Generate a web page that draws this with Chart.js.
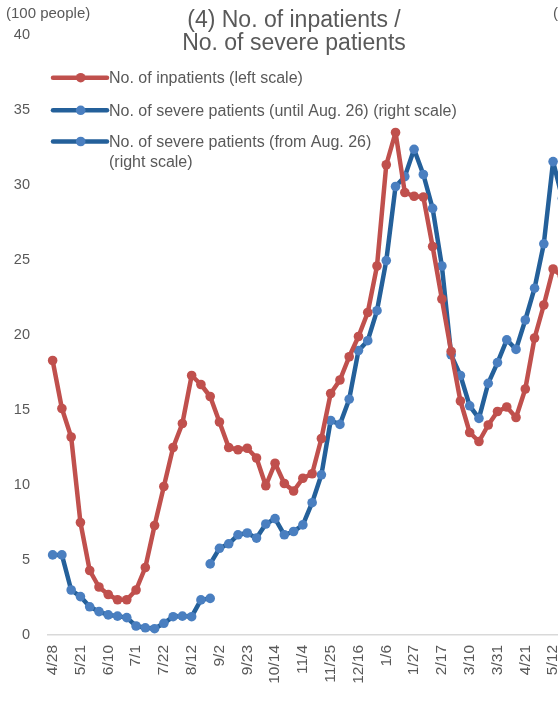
<!DOCTYPE html>
<html>
<head>
<meta charset="utf-8">
<title>No. of inpatients / No. of severe patients</title>
<script src="https://cdn.jsdelivr.net/npm/chart.js@4.4.1/dist/chart.umd.min.js"></script>
<style>
  html, body { margin: 0; padding: 0; background: #fff; overflow: hidden; }
  #wrap { width: 558px; height: 707px; overflow: hidden; }
</style>
</head>
<body>
<div id="wrap"><canvas id="chart" width="620" height="707"></canvas></div>
<script>
// weekly dates (2020/4/28 - 2021/5/19), every 3rd one is labelled
const dates = [
  '4/28', '5/7', '5/14', '5/21', '5/27', '6/3', '6/10', '6/17', '6/24',
  '7/1', '7/8', '7/15', '7/22', '7/29', '8/5', '8/12', '8/19', '8/26',
  '9/2', '9/9', '9/16', '9/23', '9/30', '10/7', '10/14', '10/21', '10/28',
  '11/4', '11/11', '11/18', '11/25', '12/2', '12/9', '12/16', '12/23', '12/30',
  '1/6', '1/13', '1/20', '1/27', '2/3', '2/10', '2/17', '2/24', '3/3',
  '3/10', '3/17', '3/24', '3/31', '4/7', '4/14', '4/21', '4/28', '5/5',
  '5/12', '5/19'
];
const labelEvery = 3;

// inpatients, left scale (100 people)
const inpatients = [
  18.3, 15.1, 13.2, 7.5, 4.3, 3.2, 2.7, 2.35, 2.35, 3.0,
  4.5, 7.3, 9.9, 12.5, 14.1, 17.3, 16.7, 15.9, 14.2, 12.5,
  12.35, 12.45, 11.8, 9.95, 11.45, 10.1, 9.6, 10.45, 10.75, 13.1,
  16.1, 17.0, 18.55, 19.9, 21.5, 24.6, 31.35, 33.5, 29.5, 29.25,
  29.2, 25.9, 22.4, 18.9, 15.6, 13.5, 12.9, 14.0, 14.9, 15.2,
  14.5, 16.4, 19.8, 22.0, 24.4, 23.9
];

// severe patients, right scale (people) - old definition, 4/28 .. 8/26
const severeUntilAug26 = [
  26.7, 26.7, 15.0, 12.8, 9.4, 7.8, 6.7, 6.3, 5.8, 3.0,
  2.4, 2.1, 3.9, 6.1, 6.3, 6.1, 11.7, 12.2
];

// severe patients, right scale (people) - new definition, 8/26 ..
const severeFromAug26 = [
  23.7, 28.9, 30.4, 33.4, 34.0, 32.3, 37.0, 38.8, 33.4, 34.5,
  36.7, 44.1, 53.4, 71.5, 70.2, 78.6, 94.8, 98.1, 108.1, 124.8,
  149.5, 152.8, 161.9, 153.5, 142.2, 123.0, 93.4, 86.5, 76.4, 72.2,
  83.9, 90.8, 98.4, 95.2, 105.0, 115.6, 130.4, 157.8, 145.5
];

const leftTicks = { min: 0, max: 40, step: 5 };
const rightTicks = { min: 0, max: 200, step: 25 };

const titleLines = ['(4) No. of inpatients /', 'No. of severe patients'];
const leftUnit = '(100 people)';
const rightUnit = '(people)';
const legendLabels = [
  ['No. of inpatients (left scale)'],
  ['No. of severe patients (until Aug. 26) (right scale)'],
  ['No. of severe patients (from Aug. 26)', '(right scale)']
];

const RED = '#C0504D';
const BLUE_LINE = '#24609A';
const BLUE_POINT = '#4A7FC0';
const TEXT = '#595959';
const FONT = '"Liberation Sans", Arial, sans-serif';

// pad the two severe series out to the full date range
const splitIndex = dates.indexOf('8/26');
const severeA = dates.map((d, i) => (i < severeUntilAug26.length ? severeUntilAug26[i] : null));
const severeB = dates.map((d, i) => (i >= splitIndex ? severeFromAug26[i - splitIndex] : null));

const lineStyle = (line, point) => ({
  borderColor: line,
  backgroundColor: point,
  pointBackgroundColor: point,
  pointBorderWidth: 0,
  pointRadius: 4.8,
  borderWidth: 4.5,
  borderJoinStyle: 'round',
  tension: 0,
  spanGaps: false,
});

// title, unit labels and the legend are drawn by hand
const extras = {
  id: 'extras',
  afterDraw(chart) {
    const ctx = chart.ctx;
    ctx.save();
    ctx.fillStyle = TEXT;

    ctx.font = '23px ' + FONT;
    ctx.textAlign = 'center';
    ctx.textBaseline = 'alphabetic';
    ctx.fillText(titleLines[0], 294, 26.5);
    ctx.fillText(titleLines[1], 294, 50);

    ctx.font = '15px ' + FONT;
    ctx.textAlign = 'left';
    ctx.fillText(leftUnit, 6, 18);
    ctx.fillText(rightUnit, 553, 18);

    const rows = [77.7, 110.3, 141.5];
    const colors = [[RED, RED], [BLUE_LINE, BLUE_POINT], [BLUE_LINE, BLUE_POINT]];
    ctx.font = '16px ' + FONT;
    rows.forEach((y, k) => {
      ctx.strokeStyle = colors[k][0];
      ctx.lineWidth = 4.5;
      ctx.lineCap = 'round';
      ctx.beginPath();
      ctx.moveTo(53, y);
      ctx.lineTo(107, y);
      ctx.stroke();
      ctx.fillStyle = colors[k][1];
      ctx.beginPath();
      ctx.arc(80.7, y, 4.8, 0, Math.PI * 2);
      ctx.fill();
      ctx.fillStyle = TEXT;
      legendLabels[k].forEach((t, j) => ctx.fillText(t, 109, y + 5.7 + j * 19.5));
    });
    ctx.restore();
  }
};

new Chart(document.getElementById('chart'), {
  type: 'line',
  data: {
    labels: dates,
    datasets: [
      Object.assign({ label: legendLabels[0].join(' '), data: inpatients, yAxisID: 'y' }, lineStyle(RED, RED)),
      Object.assign({ label: legendLabels[1].join(' '), data: severeA, yAxisID: 'y2' }, lineStyle(BLUE_LINE, BLUE_POINT)),
      Object.assign({ label: legendLabels[2].join(' '), data: severeB, yAxisID: 'y2' }, lineStyle(BLUE_LINE, BLUE_POINT)),
    ],
  },
  options: {
    responsive: false,
    animation: false,
    layout: { padding: { top: 35, left: 0, right: 0, bottom: 0 } },
    plugins: {
      legend: { display: false },
      title: { display: false },
      tooltip: { enabled: false },
    },
    scales: {
      x: {
        offset: true,
        grid: { display: false, drawTicks: false },
        border: { display: true, color: '#D9D9D9', width: 1.5 },
        ticks: {
          autoSkip: false,
          minRotation: 90,
          maxRotation: 90,
          padding: 10,
          color: TEXT,
          font: { family: FONT, size: 15.5 },
          callback: (value, index) => (index % labelEvery === 0 ? dates[index] : ''),
        },
        afterFit: (scale) => { scale.height = 72; },
      },
      y: {
        position: 'left',
        min: leftTicks.min,
        max: leftTicks.max,
        grid: { display: false, drawTicks: false },
        border: { display: false },
        ticks: {
          stepSize: leftTicks.step,
          padding: 18,
          color: TEXT,
          font: { family: FONT, size: 14.5 },
        },
        afterFit: (scale) => { scale.width = 48; },
      },
      y2: {
        position: 'right',
        min: rightTicks.min,
        max: rightTicks.max,
        grid: { display: false, drawTicks: false },
        border: { display: false },
        ticks: {
          stepSize: rightTicks.step,
          padding: 18,
          color: TEXT,
          font: { family: FONT, size: 14.5 },
        },
        afterFit: (scale) => { scale.width = 53; },
      },
    },
  },
  plugins: [extras],
});
</script>
</body>
</html>
